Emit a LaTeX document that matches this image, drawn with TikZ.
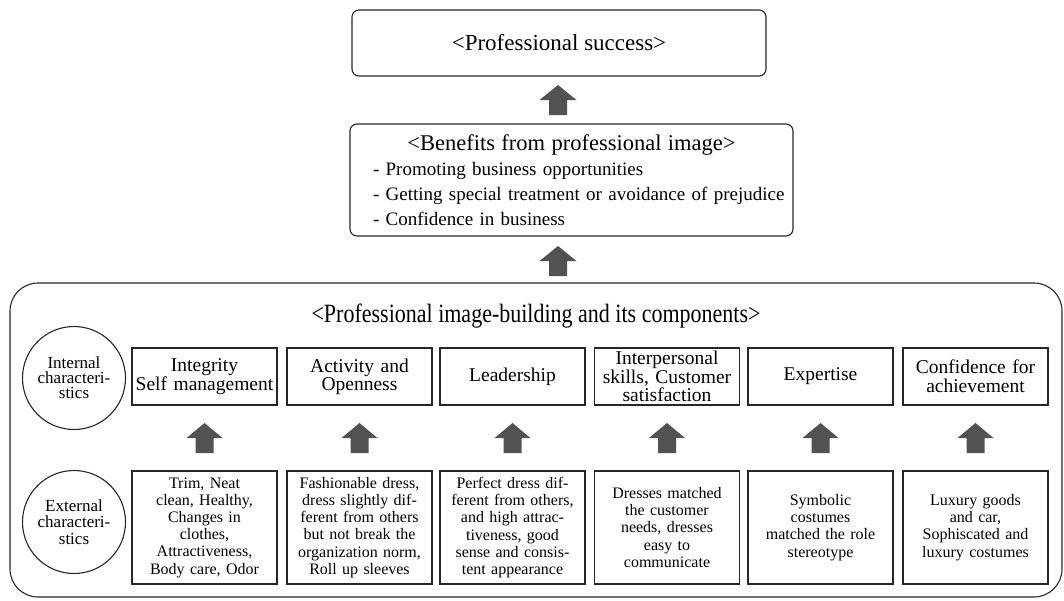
\documentclass[tikz,border=0pt]{standalone}
\usepackage{fontspec}
\setmainfont{Liberation Serif}
\begin{document}
\begin{tikzpicture}[x=1pt,y=-1pt,
  frame/.style={draw=black!85, line width=1.1pt},
  roundbox/.style={frame, rounded corners=7pt, inner sep=0pt},
  compbox/.style={frame, minimum width=145pt, inner sep=1pt, align=center},
  toprow/.style={compbox, minimum height=57pt, text width=143pt,
    font=\fontsize{19.5}{17}\selectfont},
  botrow/.style={compbox, minimum height=113pt, text width=143pt,
    font=\fontsize{16}{17.2}\selectfont},
  charcircle/.style={frame, circle, minimum size=103pt, inner sep=0pt, align=center},
  pics/uparrow/.style={code={
    \fill[black!68] (-#1/2,0) -- (0,-15) -- (#1/2,0) -- (9,0) -- (9,15) -- (-9,15) -- (-9,0) -- cycle;}}
]
\useasboundingbox (0,0) rectangle (1064,600);

% outcome boxes
\node[roundbox, minimum width=414pt, minimum height=66pt,
  font=\fontsize{23}{26}\selectfont] (success) at (559,43) {<Professional success>};
\node[roundbox, minimum width=443pt, minimum height=112pt, text width=433pt, align=left,
  font=\fontsize{19}{25}\selectfont] (benefits) at (571.5,180)
  {\makebox[433pt][c]{\fontsize{22.5}{25}\selectfont <Benefits from professional image>}\\
   \hspace*{18pt}- Promoting business opportunities\\
   \hspace*{18pt}- Getting special treatment or avoidance of prejudice\\
   \hspace*{18pt}- Confidence in business};

% large frame of the image-building components
\node[draw=black!85, line width=1.1pt, rounded corners=28pt, minimum width=1052pt,
  minimum height=314pt, inner sep=0pt] (frame) at (536,440) {};
\node[font=\fontsize{22}{24}\selectfont] (title) at (536,316)
  {\scalebox{1}[1.2]{<Professional image-building and its components>}};

% block arrows between levels
\pic at (558,100) {uparrow=37};
\pic at (558,261) {uparrow=37};

% characteristic circles
\node[charcircle, font=\fontsize{17}{15}\selectfont] (internal) at (74,378)
  {Internal\\characteri-\\stics};
\node[charcircle, font=\fontsize{17}{16.3}\selectfont] (external) at (74,522)
  {External\\characteri-\\stics};

% internal characteristics
\node[toprow] (i1) at (204.5,376.5) {Integrity\\Self management};
\node[toprow] (i2) at (359.5,376.5) {Activity and\\Openness};
\node[toprow] (i3) at (512.5,376.5) {Leadership};
\node[toprow, font=\fontsize{19.5}{15}\selectfont] (i4) at (667,376.5)
  {Interpersonal\\skills, Customer\\satisfaction};
\node[toprow] (i5) at (820.5,376.5) {Expertise};
\node[toprow, font=\fontsize{19.5}{19}\selectfont] (i6) at (975.5,376.5)
  {Confidence for\\achievement};

% external characteristics
\node[botrow] (e1) at (204.5,527.5)
  {Trim, Neat\\clean, Healthy,\\Changes in\\clothes,\\Attractiveness,\\Body care, Odor};
\node[botrow] (e2) at (359.5,527.5)
  {Fashionable dress,\\dress slightly dif-\\ferent from others\\but not break the\\organization norm,\\Roll up sleeves};
\node[botrow] (e3) at (512.5,527.5)
  {Perfect dress dif-\\ferent from others,\\and high attrac-\\tiveness, good\\sense and consis-\\tent appearance};
\node[botrow] (e4) at (667,527.5)
  {Dresses matched\\the customer\\needs, dresses\\easy to\\communicate};
\node[botrow] (e5) at (820.5,527.5)
  {Symbolic\\costumes\\matched the role\\stereotype};
\node[botrow] (e6) at (975.5,527.5)
  {Luxury goods\\and car,\\Sophiscated and\\luxury costumes};

% block arrows from external to internal characteristics
\foreach \c in {1,...,6}{
  \path (e\c.north) -- (i\c.south) coordinate[midway] (m\c);
  \pic at (m\c) {uparrow=36};
}
\end{tikzpicture}
\end{document}
